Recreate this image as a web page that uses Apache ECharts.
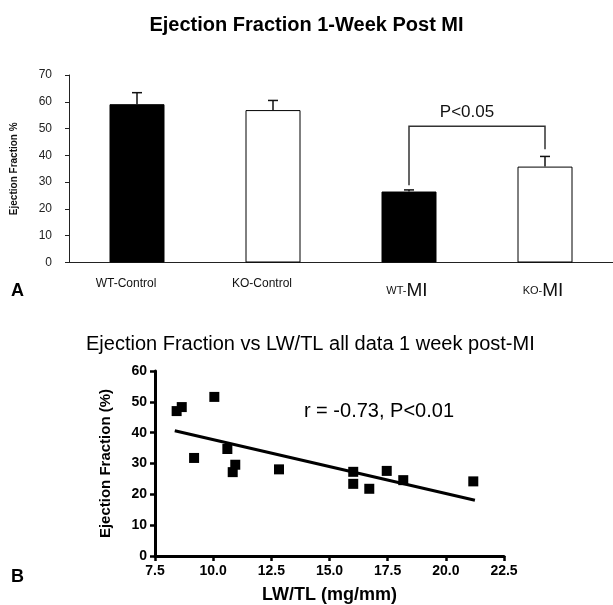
<!DOCTYPE html>
<html>
<head>
<meta charset="utf-8">
<script src="https://cdn.jsdelivr.net/npm/echarts@6/dist/echarts.min.js"></script>
<style>
  html, body { margin: 0; padding: 0; background: #fff; }
  #chart { width: 613px; height: 605px; }
</style>
</head>
<body>
<div id="chart"></div>
<script>
// panel A: bar chart
var groups = ['WT-Control', 'KO-Control', 'WT-MI', 'KO-MI'];
var efMean = [59.1, 56.9, 26.5, 35.8];
var efUpper = [63.4, 60.5, 27.1, 39.6];
var barFill = ['#000', '#fff', '#000', '#fff'];
// bracket: left group, left end, top, right group, right end
var bracket = [[2, 28.8, 50.9, 3, 42.3]];
var bracketText = 'P<0.05';
var bracketTextY = 56.2;
var yTicksA = [0, 70, 10];

// panel B: scatter
var lwtl = [8.43, 8.65, 10.05, 9.18, 10.61, 10.84, 10.95, 12.83, 16.02, 16.02, 16.71, 17.46, 18.17, 21.18];
var efB = [47.0, 48.3, 51.6, 31.8, 34.7, 27.2, 29.6, 28.1, 27.3, 23.4, 21.8, 27.6, 24.6, 24.2];
var fitLine = [[8.35, 40.6], [21.25, 18.1]];
var corrText = 'r = -0.73, P<0.01';
var corrPos = [13.9, 47.0];
var xTicksB = [7.5, 22.5, 2.5];
var yTicksB = [0, 60, 10];

var font = 'Liberation Sans, Arial, sans-serif';
var myChart = echarts.init(document.getElementById('chart'));

var barData = efMean.map(function (v, i) {
  return { value: v, itemStyle: { color: barFill[i], borderColor: '#000', borderWidth: 1 } };
});
var errData = efMean.map(function (v, i) { return [i, v, efUpper[i]]; });
var scatterData = lwtl.map(function (x, i) { return [x, efB[i]]; });

var option = {
  animation: false,
  textStyle: { fontFamily: font },
  title: [
    { text: 'Ejection Fraction 1-Week Post MI', left: 'center', top: 10,
      textStyle: { fontSize: 20, fontWeight: 'bold', color: '#000', fontFamily: font } },
    { text: 'Ejection Fraction vs LW/TL all data 1 week post-MI', left: 81, top: 329,
      textStyle: { fontSize: 20, fontWeight: 'normal', color: '#000', fontFamily: font } },
    { text: 'A', left: 6, top: 277, textStyle: { fontSize: 18, fontWeight: 'bold', color: '#000' } },
    { text: 'B', left: 6, top: 563, textStyle: { fontSize: 18, fontWeight: 'bold', color: '#000' } }
  ],
  grid: [
    { left: 69, top: 75, width: 550, height: 187.5 },
    { left: 155, top: 371, width: 349, height: 190 }
  ],
  xAxis: [
    {
      gridIndex: 0, type: 'category', data: groups,
      axisLine: { lineStyle: { color: '#222', width: 1 } },
      axisTick: { length: 5, lineStyle: { color: '#222' } },
      axisLabel: {
        margin: 15, color: '#111',
        formatter: function (name) {
          if (name.indexOf('MI') > 0) {
            return '{s|' + name.replace('MI', '') + '}{b|MI}';
          }
          return '{c|' + name + '}';
        },
        rich: {
          c: { fontSize: 12, color: '#111', padding: [0, 22, 0, 0] },
          s: { fontSize: 11, color: '#111', padding: [4, 0, 0, 0] },
          b: { fontSize: 19, color: '#111', padding: [4, 4, 0, 0] }
        }
      }
    },
    {
      gridIndex: 1, type: 'value', min: xTicksB[0], max: xTicksB[1], interval: xTicksB[2],
      name: 'LW/TL (mg/mm)', nameLocation: 'middle', nameGap: 30,
      nameTextStyle: { fontSize: 18, fontWeight: 'bold', color: '#000' },
      splitLine: { show: false },
      axisLine: { lineStyle: { color: '#000', width: 3 } },
      axisTick: { length: 5, lineStyle: { color: '#000', width: 2.5 } },
      axisLabel: { margin: 8, fontSize: 14, fontWeight: 'bold', color: '#000',
        formatter: function (v) { return v.toFixed(1); } }
    }
  ],
  yAxis: [
    {
      gridIndex: 0, type: 'value', min: yTicksA[0], max: yTicksA[1], interval: yTicksA[2],
      name: 'Ejection Fraction %', nameLocation: 'middle', nameGap: 50, nameRotate: 90,
      nameTextStyle: { fontSize: 10, fontWeight: 'bold', color: '#111' },
      splitLine: { show: false },
      axisLine: { show: true, lineStyle: { color: '#222', width: 1 } },
      axisTick: { show: true, length: 4, lineStyle: { color: '#222' } },
      axisLabel: { margin: 17, fontSize: 12, color: '#222' }
    },
    {
      gridIndex: 1, type: 'value', min: yTicksB[0], max: yTicksB[1], interval: yTicksB[2],
      name: 'Ejection Fraction (%)', nameLocation: 'middle', nameGap: 42, nameRotate: 90,
      nameTextStyle: { fontSize: 15, fontWeight: 'bold', color: '#000' },
      splitLine: { show: false },
      axisLine: { show: true, lineStyle: { color: '#000', width: 3 } },
      axisTick: { show: true, length: 5, lineStyle: { color: '#000', width: 2.5 } },
      axisLabel: { margin: 8, fontSize: 14, fontWeight: 'bold', color: '#000' }
    }
  ],
  series: [
    {
      type: 'bar', xAxisIndex: 0, yAxisIndex: 0, barWidth: 55, data: barData
    },
    {
      type: 'custom', xAxisIndex: 0, yAxisIndex: 0, data: errData, z: 5,
      renderItem: function (params, api) {
        var lo = api.coord([api.value(0), api.value(1)]);
        var hi = api.coord([api.value(0), api.value(2)]);
        var style = { stroke: '#111', lineWidth: 1.5 };
        return {
          type: 'group',
          children: [
            { type: 'line', shape: { x1: lo[0], y1: lo[1], x2: hi[0], y2: hi[1] }, style: style },
            { type: 'line', shape: { x1: hi[0] - 5, y1: hi[1], x2: hi[0] + 5, y2: hi[1] }, style: style }
          ]
        };
      }
    },
    {
      type: 'custom', xAxisIndex: 0, yAxisIndex: 0, data: bracket, z: 5,
      renderItem: function (params, api) {
        var a = api.coord([api.value(0), api.value(1)]);
        var b = api.coord([api.value(0), api.value(2)]);
        var c = api.coord([api.value(3), api.value(2)]);
        var d = api.coord([api.value(3), api.value(4)]);
        var t = api.coord([api.value(0), bracketTextY]);
        return {
          type: 'group',
          children: [
            { type: 'polyline', shape: { points: [a, b, c, d] },
              style: { stroke: '#333', lineWidth: 1.5, fill: null } },
            { type: 'text', x: (a[0] + d[0]) / 2 - 10, y: t[1],
              style: { text: bracketText, fontSize: 17, fill: '#111', fontFamily: font,
                align: 'center', verticalAlign: 'middle' } }
          ]
        };
      }
    },
    {
      type: 'line', xAxisIndex: 1, yAxisIndex: 1, data: fitLine, symbol: 'none',
      lineStyle: { color: '#000', width: 3 }
    },
    {
      type: 'scatter', xAxisIndex: 1, yAxisIndex: 1, data: scatterData,
      symbol: 'rect', symbolSize: 10, itemStyle: { color: '#000', opacity: 1 }, z: 4
    },
    {
      type: 'custom', xAxisIndex: 1, yAxisIndex: 1, data: [corrPos],
      renderItem: function (params, api) {
        var p = api.coord([api.value(0), api.value(1)]);
        return {
          type: 'text', x: p[0], y: p[1],
          style: { text: corrText, fontSize: 20, fill: '#000', fontFamily: font,
            align: 'left', verticalAlign: 'middle' }
        };
      }
    }
  ]
};

myChart.setOption(option);
</script>
</body>
</html>
